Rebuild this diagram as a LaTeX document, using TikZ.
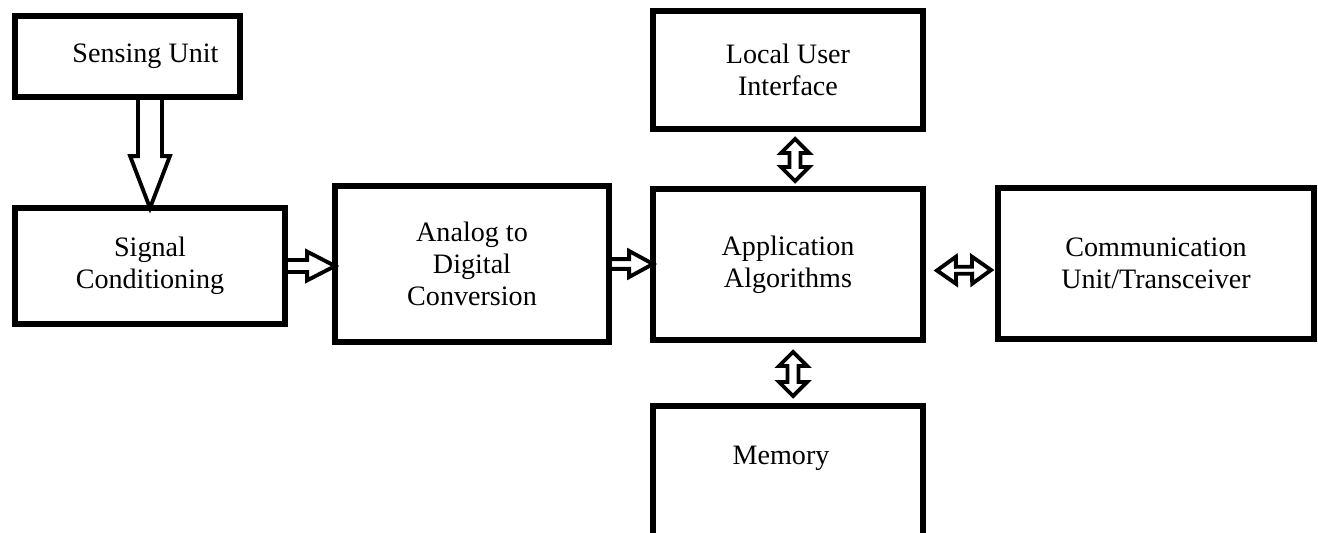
\documentclass[tikz,border=0pt]{standalone}
\usepackage{fontspec}
\setmainfont{Liberation Serif}
\usetikzlibrary{calc}

\tikzset{
  unittext/.style={align=center, font=\fontsize{16}{18}\selectfont},
  unit/.style={draw, line width=3.4pt, fill=white, outer sep=0pt, unittext},
  hollow/.style={draw, line width=2.2pt, line join=miter},
}

% hollow block arrow from #1 to #2 (shaft half width #3, head half width #4, head length #5)
\newcommand{\onewayarrow}[5]{%
  \path #1 coordinate (aw-s) #2 coordinate (aw-e);
  \path ($(aw-e)!#5!(aw-s)$) coordinate (aw-h);
  \draw[hollow] ($(aw-s)!#3!90:(aw-e)$) -- ($(aw-h)!#3!-90:(aw-s)$)
    -- ($(aw-h)!#4!-90:(aw-s)$) -- (aw-e) -- ($(aw-h)!#4!90:(aw-s)$)
    -- ($(aw-h)!#3!90:(aw-s)$) -- ($(aw-s)!#3!-90:(aw-e)$) -- cycle;
}
% same, with a head at both ends
\newcommand{\twowayarrow}[5]{%
  \path #1 coordinate (aw-s) #2 coordinate (aw-e);
  \path ($(aw-s)!#5!(aw-e)$) coordinate (aw-hs) ($(aw-e)!#5!(aw-s)$) coordinate (aw-he);
  \draw[hollow] (aw-s) -- ($(aw-hs)!#4!90:(aw-e)$) -- ($(aw-hs)!#3!90:(aw-e)$)
    -- ($(aw-he)!#3!-90:(aw-s)$) -- ($(aw-he)!#4!-90:(aw-s)$) -- (aw-e)
    -- ($(aw-he)!#4!90:(aw-s)$) -- ($(aw-he)!#3!90:(aw-s)$)
    -- ($(aw-hs)!#3!-90:(aw-e)$) -- ($(aw-hs)!#4!-90:(aw-e)$) -- cycle;
}

\begin{document}
\begin{tikzpicture}[x=0.02cm, y=-0.02cm]
  \useasboundingbox (0,0) rectangle (1318,533);

  % left column
  \node[unit, minimum width=4.5cm, minimum height=1.62cm,
        label={[unittext, shift={(18,0)}]center:Sensing Unit}] (sense) at (127.5,56.5) {};
  \node[unit, minimum width=5.4cm, minimum height=2.32cm] (signal) at (150,266) {Signal\\Conditioning};

  % converter
  \node[unit, minimum width=5.48cm, minimum height=3.12cm] (adc) at (472,264) {Analog to\\Digital\\Conversion};

  % processing column
  \node[unit, minimum width=5.4cm, minimum height=2.36cm] (local) at (788,70) {Local User\\Interface};
  \node[unit, minimum width=5.4cm, minimum height=3.02cm] (app) at (788,264.5) {Application\\Algorithms};
  \node[unit, minimum width=5.4cm, minimum height=2.78cm,
        label={[unittext, shift={(-7,-17)}]center:Memory}] (mem) at (788,475.5) {};

  % radio
  \node[unit, minimum width=6.32cm, minimum height=3.02cm] (comm) at (1156,263.5) {Communication\\Unit/Transceiver};

  % data flow
  \onewayarrow{(sense.south -| signal.north)}{(signal.north)}{6.8pt}{11.3pt}{29.5pt}
  \onewayarrow{(signal.east)}{(adc.west |- signal.east)}{3.4pt}{8.2pt}{15.9pt}
  \onewayarrow{(adc.east)}{(app.west |- adc.east)}{2.8pt}{7.4pt}{13.6pt}

  % two-way links
  \twowayarrow{($(local.south)+(7,10)$)}{($(app.north)+(7,-8)$)}{3.1pt}{8pt}{8pt}
  \twowayarrow{($(app.south)+(5,12)$)}{($(mem.north)+(5,-10)$)}{3.1pt}{8pt}{8pt}
  \twowayarrow{($(app.east)+(14,6)$)}{($(comm.west)+(-7,6.5)$)}{2pt}{7.7pt}{10.8pt}
\end{tikzpicture}
\end{document}
